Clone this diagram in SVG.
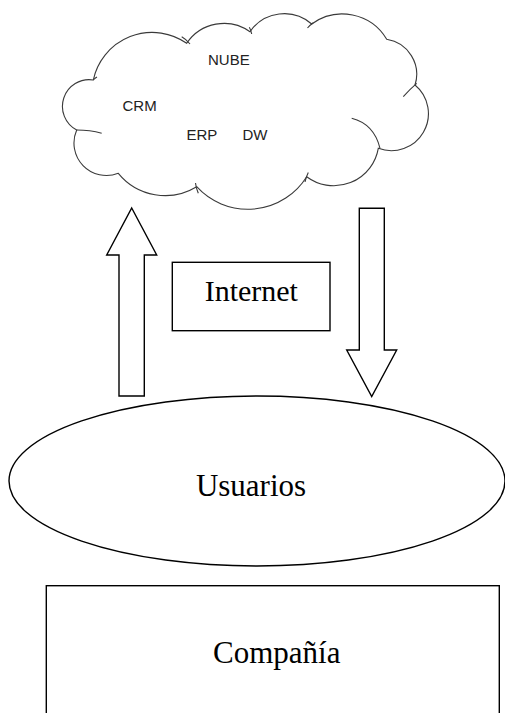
<svg xmlns="http://www.w3.org/2000/svg" width="505" height="713" viewBox="0 0 505 713">
<style>
.ln{fill:#fff;stroke:#000;stroke-width:1.4}
.cl{fill:#fff;stroke:#3a3a3a;stroke-width:1.1}
.in{fill:none;stroke:#3a3a3a;stroke-width:1.1}
.s{font-family:"Liberation Sans",Arial,sans-serif;font-size:15px;fill:#222}
.t{font-family:"Liberation Serif","Times New Roman",serif;font-size:30px;fill:#000;text-anchor:middle}
</style>
<rect width="505" height="713" fill="#fff"/>
<g id="nube">
<path class="cl" d="M93.3,80 A60.2,60.2 0 0 1 186.7,43.3 A44.9,44.9 0 0 1 250,31.7 A41.5,41.5 0 0 1 311.7,24 A51.7,51.7 0 0 1 386.7,39.3 A35.4,35.4 0 0 1 415,85 A37.1,37.1 0 0 1 378.3,148.3 A45.1,45.1 0 0 1 306.7,176.7 A69.3,69.3 0 0 1 196.7,186.7 A60.5,60.5 0 0 1 118.3,173.3 A32.5,32.5 0 0 1 76.7,130 A26.7,26.7 0 0 1 93.3,80 Z"/>
<path class="in" d="M76.7,130 Q90,130 101.7,133.3"/>
<path class="in" d="M351.7,118.3 Q374,124 380,148.3"/>
<path class="in" d="M181.7,36.7 Q186,39 190,44"/>
<path class="in" d="M249.3,27.3 Q251,30 251.7,34"/>
<path class="in" d="M307.5,28 Q310,25 313.3,22.7"/>
<path class="in" d="M403.3,96.7 Q410,89 416.7,83.3"/>
<path class="in" d="M305,182 Q306,177 308.3,172.5"/>
<path class="in" d="M198.3,193.3 Q196,188 195.5,183"/>
<path class="in" d="M93.3,80 Q95,78 97,77"/>
<text class="s" x="208" y="65">NUBE</text>
<text class="s" x="122.5" y="111">CRM</text>
<text class="s" x="186.5" y="139.5">ERP</text>
<text class="s" x="242.5" y="139.5">DW</text>
</g>
<g id="connectors">
<path id="arrow-up" class="ln" d="M131.7,208 L156.7,255 L144.3,255 L144.3,396 L119,396 L119,255 L106.7,255 Z"/>
<path id="arrow-down" class="ln" d="M359.3,208.3 L384.3,208.3 L384.3,350 L396.7,350 L371.7,396.5 L346.7,350 L359.3,350 Z"/>
</g>
<g id="internet">
<rect class="ln" x="172.3" y="262.3" width="157.7" height="68.4"/>
<text class="t" x="251.3" y="301">Internet</text>
</g>
<g id="usuarios">
<ellipse class="ln" cx="257" cy="481" rx="248" ry="85"/>
<text class="t" x="251" y="495.5" style="font-size:31px">Usuarios</text>
</g>
<g id="compania">
<rect class="ln" x="46.3" y="585.7" width="453" height="140"/>
<text class="t" x="276.7" y="663.3" style="font-size:31px">Compañía</text>
</g>
</svg>
